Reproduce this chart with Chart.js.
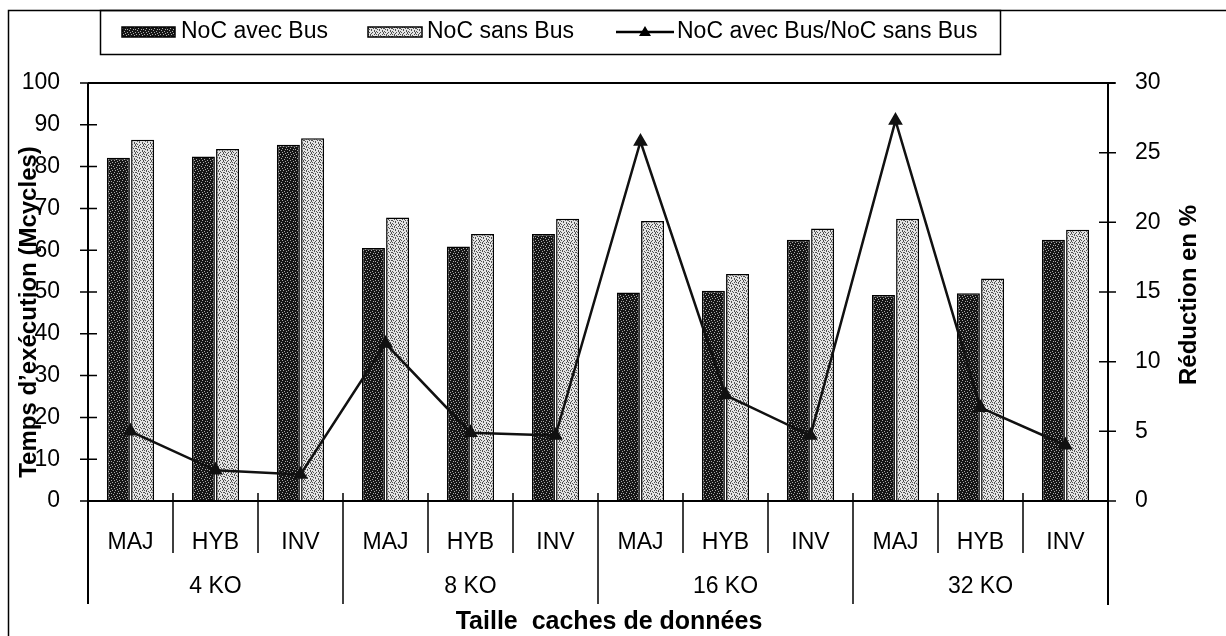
<!DOCTYPE html>
<html>
<head>
<meta charset="utf-8">
<script src="https://cdn.jsdelivr.net/npm/chart.js@4.4.1/dist/chart.umd.min.js"></script>
<style>
    html, body { margin: 0; padding: 0; background: #fff; }
    #wrap { width: 1226px; height: 636px; }
</style>
</head>
<body>
<div id="wrap"><canvas id="chart" width="1226" height="636"></canvas></div>
<script>
// --- Data ---
const cacheSizes = ['4 KO', '8 KO', '16 KO', '32 KO'];
const policies = ['MAJ', 'HYB', 'INV'];
const nocAvecBus = [82.1, 82.4, 85.2, 60.5, 60.9, 63.9, 49.9, 50.3, 62.5, 49.3, 49.7, 62.5];
const nocSansBus = [86.4, 84.2, 86.8, 67.8, 63.9, 67.5, 67.0, 54.3, 65.2, 67.5, 53.2, 64.9];
const reduction = [5.0, 2.2, 1.9, 11.3, 4.9, 4.7, 25.8, 7.6, 4.7, 27.3, 6.7, 4.0];

const seriesNames = ['NoC avec Bus', 'NoC sans Bus', 'NoC avec Bus/NoC sans Bus'];
const titleLeft = 'Temps d\u2019exécution (Mcycles)';
const titleRight = 'Réduction en %';
const titleBottom = 'Taille  caches de données';

const labels = cacheSizes.flatMap(() => policies);
const FONT = '"Liberation Sans", Arial, sans-serif';

// --- Stipple patterns for the bars ---
const canvas = document.getElementById('chart');
const ctx = canvas.getContext('2d');

function makePattern(map, onColor, offColor) {
    const c = document.createElement('canvas');
    c.width = map[0].length;
    c.height = map.length;
    const g = c.getContext('2d');
    map.forEach((row, y) => {
        [...row].forEach((ch, x) => {
            g.fillStyle = ch === '#' ? onColor : offColor;
            g.fillRect(x, y, 1, 1);
        });
    });
    return ctx.createPattern(c, 'repeat');
}

// mostly black with sparse light specks
const darkFill = makePattern([
    '##.####.',
    '#####.##',
    '.##.####',
    '######.#',
    '##.#####',
    '#####.#.',
    '#.######',
    '####.###'
], '#151515', '#a8a8a8');

// salt and pepper grey
const lightFill = makePattern([
    '.#..#..#',
    '...#...#',
    '#.#...#.',
    '..#.#...',
    '#....#.#',
    '.#.#....',
    '...#..#.',
    '#.....#.'
], '#505050', '#e4e4e4');

// --- Frame, axes, separators, legend and titles ---
const framePlugin = {
    id: 'frame',
    afterDraw(chart) {
        const g = chart.ctx;
        const x = chart.scales.x;
        const yL = chart.scales.y;
        const yR = chart.scales.y1;
        const top = chart.chartArea.top;
        const bottom = chart.chartArea.bottom;
        const left = chart.chartArea.left;
        const right = chart.chartArea.right;

        g.save();
        g.strokeStyle = '#000';

        // outer frame
        g.lineWidth = 1.5;
        g.beginPath();
        g.moveTo(8.5, 636); g.lineTo(8.5, 10.5); g.lineTo(1226, 10.5);
        g.stroke();

        // legend box
        g.strokeRect(100.5, 10.5, 900, 44);

        // plot top line and axes
        g.lineWidth = 2;
        g.beginPath();
        g.moveTo(left, top); g.lineTo(right + 7, top);
        g.moveTo(left, top); g.lineTo(left, 604);
        g.moveTo(right, top); g.lineTo(right, 605);
        g.moveTo(left, bottom); g.lineTo(right, bottom);
        g.stroke();

        // tick marks crossing the value axes
        g.lineWidth = 1.5;
        g.beginPath();
        yL.ticks.forEach(t => {
            const py = yL.getPixelForValue(t.value);
            g.moveTo(left - 8, py); g.lineTo(left + 9, py);
        });
        yR.ticks.forEach(t => {
            const py = yR.getPixelForValue(t.value);
            g.moveTo(right - 9, py); g.lineTo(right + 8, py);
        });
        g.stroke();

        // category separators
        g.beginPath();
        for (let i = 1; i < labels.length; i++) {
            const px = (x.getPixelForValue(i - 1) + x.getPixelForValue(i)) / 2;
            const isGroup = i % policies.length === 0;
            g.moveTo(px, bottom - 8);
            g.lineTo(px, isGroup ? 604 : 553);
        }
        g.stroke();

        // cache size group labels
        g.fillStyle = '#000';
        g.font = '23px ' + FONT;
        g.textAlign = 'center';
        g.textBaseline = 'middle';
        cacheSizes.forEach((name, gi) => {
            const a = x.getPixelForValue(gi * policies.length);
            const b = x.getPixelForValue(gi * policies.length + policies.length - 1);
            g.fillText(name, (a + b) / 2, 587);
        });

        // legend
        g.textAlign = 'left';
        g.lineWidth = 1.5;
        g.fillStyle = darkFill;
        g.fillRect(122, 27, 53, 10);
        g.strokeRect(122, 27, 53, 10);
        g.fillStyle = lightFill;
        g.fillRect(368, 27, 54, 10);
        g.strokeRect(368, 27, 54, 10);
        g.fillStyle = '#000';
        g.fillText(seriesNames[0], 181, 32);
        g.fillText(seriesNames[1], 427, 32);
        g.lineWidth = 2.5;
        g.beginPath();
        g.moveTo(616, 32); g.lineTo(674, 32);
        g.stroke();
        g.beginPath();
        g.moveTo(645, 26); g.lineTo(651, 36); g.lineTo(639, 36); g.closePath();
        g.fill();
        g.fillText(seriesNames[2], 677, 32);

        // axis titles
        g.font = 'bold 24px ' + FONT;
        g.textAlign = 'center';
        g.save();
        g.translate(29, 312);
        g.rotate(-Math.PI / 2);
        g.fillText(titleLeft, 0, 0);
        g.restore();
        g.save();
        g.translate(1189, 295);
        g.rotate(-Math.PI / 2);
        g.fillText(titleRight, 0, 0);
        g.restore();
        g.font = 'bold 25px ' + FONT;
        g.fillText(titleBottom, 609, 622);

        g.restore();
    }
};

// --- Chart ---
new Chart(ctx, {
    data: {
        labels: labels,
        datasets: [{
            type: 'line',
            label: seriesNames[2],
            data: reduction,
            yAxisID: 'y1',
            borderColor: '#111',
            borderWidth: 2.5,
            pointStyle: 'triangle',
            pointRadius: 6,
            pointBackgroundColor: '#111',
            pointBorderColor: '#111',
            tension: 0,
            order: 0
        }, {
            type: 'bar',
            label: seriesNames[0],
            data: nocAvecBus,
            yAxisID: 'y',
            backgroundColor: darkFill,
            borderColor: '#000',
            borderWidth: 1.5,
            barPercentage: 0.95,
            categoryPercentage: 0.57,
            order: 1
        }, {
            type: 'bar',
            label: seriesNames[1],
            data: nocSansBus,
            yAxisID: 'y',
            backgroundColor: lightFill,
            borderColor: '#000',
            borderWidth: 1.5,
            barPercentage: 0.95,
            categoryPercentage: 0.57,
            order: 1
        }]
    },
    options: {
        responsive: false,
        animation: false,
        devicePixelRatio: 1,
        events: [],
        layout: { padding: { top: 83, left: 0, right: 0, bottom: 0 } },
        plugins: {
            legend: { display: false },
            tooltip: { enabled: false }
        },
        scales: {
            x: {
                type: 'category',
                offset: true,
                grid: { display: false },
                border: { display: false },
                ticks: { color: '#000', font: { family: FONT, size: 23 }, padding: 20, maxRotation: 0 },
                afterFit: s => { s.height = 135; }
            },
            y: {
                position: 'left',
                min: 0,
                max: 100,
                grid: { display: false },
                border: { display: false },
                ticks: { stepSize: 10, color: '#000', font: { family: FONT, size: 23 }, padding: 20 },
                afterFit: s => { s.width = 88; }
            },
            y1: {
                position: 'right',
                min: 0,
                max: 30,
                grid: { display: false },
                border: { display: false },
                ticks: { stepSize: 5, color: '#000', font: { family: FONT, size: 23 }, padding: 19 },
                afterFit: s => { s.width = 118; }
            }
        }
    },
    plugins: [framePlugin]
});
</script>
</body>
</html>
